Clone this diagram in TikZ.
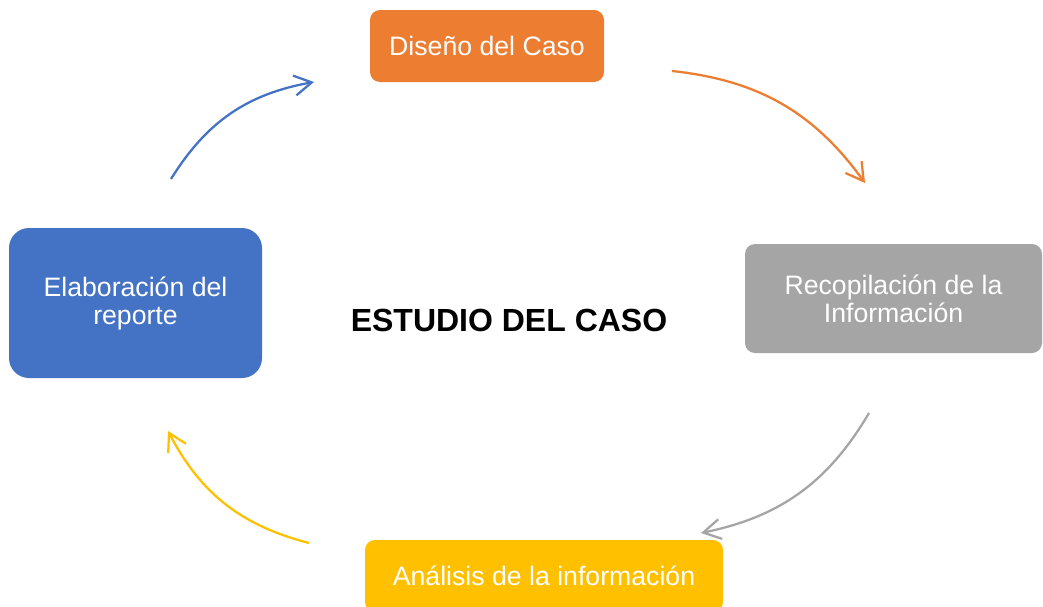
\documentclass[tikz,border=0pt]{standalone}
\usepackage{fontspec}
\setmainfont{Liberation Sans}
\usetikzlibrary{arrows.meta}

\definecolor{naranja}{HTML}{ED7D31}
\definecolor{gris}{HTML}{A5A5A5}
\definecolor{amarillo}{HTML}{FFC000}
\definecolor{azul}{HTML}{4472C4}

\tikzset{
  paso/.style={rounded corners=7.5pt, text=white, align=center, inner sep=0pt,
    font=\fontsize{20}{21}\selectfont},
  flecha/.style={line width=1.7pt, -{Straight Barb[length=13pt,width=15pt]}, bend left=24},
}

\begin{document}
\begin{tikzpicture}[x=0.75pt,y=-0.75pt]
   \useasboundingbox (0,0) rectangle (1043,607);

   \node[font=\fontsize{24}{26}\selectfont\bfseries] (T) at (509,320) {ESTUDIO DEL CASO} ; %
   \node[paso, fill=naranja, minimum width=175.5pt, minimum height=54pt]    (D) at (487,46)      {Diseño del Caso} ; %
   \node[paso, fill=gris, minimum width=222.75pt, minimum height=81.75pt]   (R) at (893.5,298.5) {Recopilación de la\\Información} ; %
   \node[paso, fill=amarillo, minimum width=268.5pt, minimum height=54pt]   (A) at (544,576)     {Análisis de la información} ; %
   \node[paso, fill=azul, rounded corners=15pt, minimum width=189.75pt, minimum height=112.5pt] (E) at (135.5,303) {Elaboración del\\reporte} ; %

   \coordinate (E1) at (171,179) ;
   \coordinate (E2) at (314,82) ;
   \coordinate (D1) at (672,71) ;
   \coordinate (D2) at (865,183) ;
   \coordinate (R1) at (869,413) ;
   \coordinate (R2) at (701,533) ;
   \coordinate (A1) at (309,543) ;
   \coordinate (A2) at (168,431) ;

  \draw[flecha, azul]     (E1) to (E2) ;
  \draw[flecha, naranja]  (D1) to (D2) ;
  \draw[flecha, gris]     (R1) to (R2) ;
  \draw[flecha, amarillo] (A1) to (A2) ;

\end{tikzpicture}
\end{document}
